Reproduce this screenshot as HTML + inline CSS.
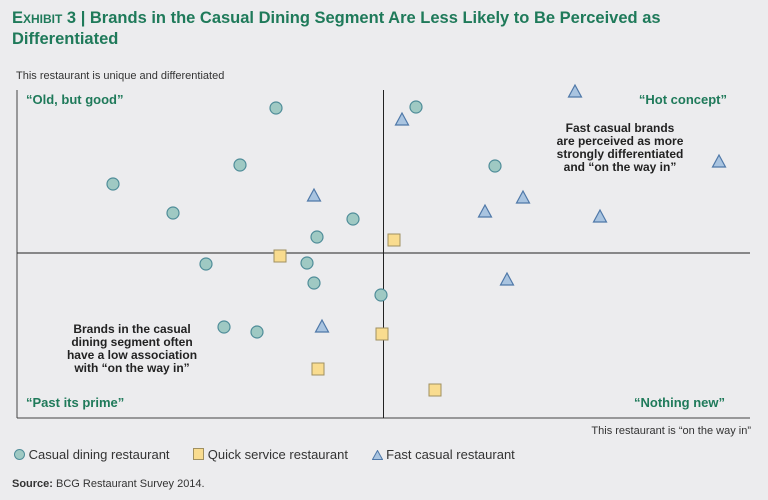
<!DOCTYPE html>
<html><head><meta charset="utf-8"><style>
body{margin:0;background:#ececee;font-family:"Liberation Sans",sans-serif;}
#wrap{position:relative;width:768px;height:500px;overflow:hidden;background:#ececee;}
.t{position:absolute;white-space:nowrap;}
</style></head><body>
<div id="wrap">
<div class="t" style="left:12px;top:8px;font-size:16.5px;font-weight:bold;color:#1f7a5a;line-height:21px;white-space:normal;width:740px;"><span style="font-variant:small-caps;">Exhibit 3</span> | Brands in the Casual Dining Segment Are Less Likely to Be Perceived as Differentiated</div>
<div class="t" style="left:16px;top:70px;font-size:11px;color:#333;">This restaurant is unique and differentiated</div>
<div class="t" style="right:17px;top:425px;font-size:11px;color:#333;">This restaurant is “on the way in”</div>
<svg id="plot" width="768" height="500" style="position:absolute;left:0;top:0"></svg>
<div class="t" style="left:14px;top:447px;font-size:13px;color:#333;">
<span><span style="display:inline-block;width:9px;height:9px;border-radius:50%;background:#9fc9c3;border:1px solid #4f8d99;vertical-align:-1px;"></span> Casual dining restaurant</span>
<span style="margin-left:20px;"><span style="display:inline-block;width:9px;height:10px;background:#f9dc8f;border:1px solid #a09060;vertical-align:-1px;"></span> Quick service restaurant</span>
<span style="margin-left:20px;"><svg width="11" height="10" style="vertical-align:-1px"><polygon points="5.5,0.5 10.5,9.5 0.5,9.5" fill="#a9c4e0" stroke="#4f78a8"/></svg> Fast casual restaurant</span>
</div>
<div class="t" style="left:12px;top:478px;font-size:11px;color:#333;"><b>Source:</b> BCG Restaurant Survey 2014.</div>
</div>
<script>
const circleX=[259,223,96,156,336,300,189,290,297,364,207,240,399,478];
const circleY=[310,253,234,205,199,181,154,155,135,123,91,86,311,252];
const squareX=[263,377,365,301,418];
const squareY=[162,178,84,49,28];
const triangleX=[558,385,297,702,468,506,583,490,305];
const triangleY=[326,298,222,256,206,220,201,138,91];
const NS='http://www.w3.org/2000/svg';
const svg=document.getElementById('plot');
const X0=17,X1=750,Y0=418,Y1=90;
function sx(v){return X0+v*(X1-X0)/733;}
function sy(v){return Y0-v*(Y0-Y1)/328;}
function mk(tag,attrs){const e=document.createElementNS(NS,tag);for(const k in attrs)e.setAttribute(k,attrs[k]);svg.appendChild(e);return e;}
let e;
e=mk('line',{x1:X0,y1:Y1,x2:X0,y2:Y0,stroke:'#444','stroke-width':1});


e=mk('line',{x1:X0,y1:Y0,x2:X1,y2:Y0,stroke:'#444','stroke-width':1});


e=mk('line',{x1:sx(366.5),y1:Y1,x2:sx(366.5),y2:Y0,stroke:'#222','stroke-width':1});


e=mk('line',{x1:X0,y1:sy(165),x2:X1,y2:sy(165),stroke:'#222','stroke-width':1});


function txt(x,y,s,anchor,size,fill,weight,name){const t=mk('text',{x:x,y:y,'text-anchor':anchor,'font-size':size,fill:fill,'font-weight':weight,'font-family':'Liberation Sans, sans-serif'});t.textContent=s;return t;}
txt(26,104,'“Old, but good”','start',13,'#1f7a5a','bold','quadrant-label-old-but-good');
txt(727,104,'“Hot concept”','end',13,'#1f7a5a','bold','quadrant-label-hot-concept');
txt(26,407,'“Past its prime”','start',13,'#1f7a5a','bold','quadrant-label-past-its-prime');
txt(725,407,'“Nothing new”','end',13,'#1f7a5a','bold','quadrant-label-nothing-new');
['Fast casual brands','are perceived as more','strongly differentiated','and “on the way in”'].forEach((s,i)=>txt(620,132+i*13,s,'middle',12,'#222','bold','annotation-fast-casual'));
['Brands in the casual','dining segment often','have a low association','with “on the way in”'].forEach((s,i)=>txt(132,333+i*13,s,'middle',12,'#222','bold','annotation-casual-dining'));
circleX.forEach((v,i)=>{const c=mk('circle',{cx:sx(v),cy:sy(circleY[i]),r:6,fill:'#9fc9c3',stroke:'#4f8d99','stroke-width':1.2});

});
squareX.forEach((v,i)=>{const r=mk('rect',{x:sx(v)-6,y:sy(squareY[i])-6,width:12,height:12,fill:'#f9dc8f',stroke:'#a09060','stroke-width':1});

});
triangleX.forEach((v,i)=>{const x=sx(v),y=sy(triangleY[i]);const p=mk('polygon',{points:`${x},${y-7} ${x+6.5},${y+5} ${x-6.5},${y+5}`,fill:'#a9c4e0',stroke:'#4f78a8','stroke-width':1.2});

});
</script>
</body></html>
